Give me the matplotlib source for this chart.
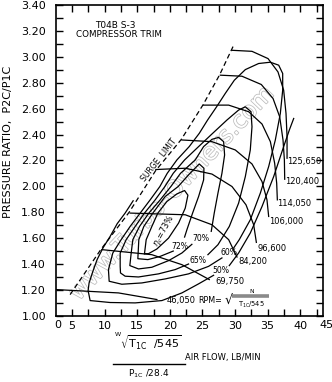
import matplotlib
matplotlib.use("Agg")
import matplotlib.pyplot as plt
from matplotlib.lines import Line2D
import matplotlib.patheffects as pe

plt.rcParams['font.family'] = ['DejaVu Sans']
plt.rcParams['mathtext.fontset'] = 'dejavusans'

# ---------------- data ----------------
speed_labels = ["125,650", "120,400", "114,050", "106,000", "96,600", "84,200", "69,750", "46,050"]
spd_125650_x = [29.53, 32.60, 35.06, 36.59, 37.46, 37.82, 37.98, 37.98]
spd_125650_y = [3.050, 3.042, 2.986, 2.883, 2.742, 2.563, 2.383, 2.217]
spd_120400_x = [27.74, 31.06, 34.03, 35.83, 36.85, 37.36, 37.57, 37.62]
spd_120400_y = [2.858, 2.850, 2.786, 2.678, 2.537, 2.358, 2.204, 2.055]
spd_114050_x = [25.18, 29.02, 32.09, 34.14, 35.42, 36.08, 36.39, 36.49]
spd_114050_y = [2.627, 2.627, 2.576, 2.481, 2.345, 2.178, 2.024, 1.896]
spd_106000_x = [21.85, 26.46, 30.04, 32.60, 34.14, 34.90, 35.16]
spd_106000_y = [2.358, 2.345, 2.281, 2.173, 2.037, 1.896, 1.768]
spd_96600_x = [17.85, 22.36, 26.46, 29.53, 31.68, 32.86, 33.27]
spd_96600_y = [2.130, 2.140, 2.095, 1.999, 1.858, 1.704, 1.568]
spd_84200_x = [13.91, 22.36, 26.46, 29.02, 30.30]
spd_84200_y = [1.794, 1.781, 1.704, 1.589, 1.455]
spd_69750_x = [9.56, 17.24, 21.85, 24.66, 26.05]
spd_69750_y = [1.512, 1.473, 1.396, 1.319, 1.281]
spd_46050_x = [2.50, 12.12, 18.01]
spd_46050_y = [1.204, 1.178, 1.127]

surge_x = [4.70, 9.40, 13.75, 17.80, 21.75, 25.10, 27.65, 29.78]
surge_y = [1.165, 1.512, 1.800, 2.120, 2.362, 2.630, 2.862, 3.088]

eff_labels = ["73%", "72%", "70%", "65%", "60%", "50%"]
eff73_x = [16.11, 16.37, 17.24, 18.16, 19.54, 21.08, 22.26, 22.77, 22.36, 21.34, 19.80, 18.01, 16.73, 16.11]
eff73_y = [1.481, 1.589, 1.691, 1.794, 1.883, 1.942, 1.968, 1.932, 1.832, 1.717, 1.601, 1.517, 1.481, 1.481]
eff72_x = [22.26, 22.62, 23.49, 24.41, 25.18, 25.23, 24.51, 22.87, 21.28, 19.29, 17.39, 16.01, 15.24, 15.09, 16.63, 18.52, 20.52]
eff72_y = [1.609, 1.666, 1.794, 1.922, 2.050, 2.140, 2.173, 2.089, 1.999, 1.922, 1.794, 1.691, 1.589, 1.442, 1.435, 1.460, 1.501]
eff70_x = [26.35, 26.81, 27.38, 27.99, 28.40, 28.25, 27.48, 26.46, 25.18, 23.90, 21.64, 20.16, 18.52, 16.78, 15.35, 14.32, 14.07, 13.86, 15.19, 17.24, 19.80, 21.85, 23.38]
eff70_y = [1.653, 1.794, 1.948, 2.101, 2.242, 2.345, 2.378, 2.363, 2.307, 2.204, 2.101, 1.999, 1.896, 1.794, 1.691, 1.589, 1.486, 1.389, 1.363, 1.376, 1.427, 1.486, 1.553]
eff65_x = [25.84, 27.38, 29.12, 30.55, 31.58, 32.34, 32.60, 32.45, 31.58, 30.55, 28.76, 26.56, 24.41, 22.26, 20.52, 19.24, 17.75, 16.11, 14.68, 13.30, 12.38, 12.38, 12.43, 13.14, 15.19, 18.26, 20.82, 22.87]
eff65_y = [1.473, 1.550, 1.691, 1.871, 2.076, 2.281, 2.460, 2.576, 2.614, 2.589, 2.512, 2.409, 2.307, 2.204, 2.101, 1.999, 1.896, 1.794, 1.691, 1.589, 1.486, 1.383, 1.332, 1.307, 1.301, 1.325, 1.358, 1.401]
eff60_x = [29.78, 30.65, 32.34, 33.88, 35.16, 36.18, 36.95, 37.31, 37.31, 36.70, 35.42, 33.62, 31.58, 29.89, 28.50, 27.17, 25.79, 24.51, 22.97, 21.08, 19.60, 18.47, 16.98, 15.45, 13.91, 12.53, 11.25, 10.58, 10.69, 12.63, 15.70, 19.29, 22.87, 25.94, 27.99]
eff60_y = [1.524, 1.589, 1.742, 1.948, 2.153, 2.358, 2.563, 2.742, 2.871, 2.935, 2.958, 2.948, 2.901, 2.819, 2.717, 2.614, 2.512, 2.409, 2.307, 2.204, 2.101, 1.999, 1.896, 1.794, 1.691, 1.589, 1.486, 1.358, 1.268, 1.245, 1.255, 1.286, 1.325, 1.383, 1.448]
eff50_x = [14.37, 13.14, 11.92, 10.84, 9.76, 8.84, 8.23, 7.61, 7.46, 7.77, 10.84, 14.68, 18.78, 21.85, 24.41, 26.71]
eff50_y = [1.889, 1.794, 1.712, 1.614, 1.527, 1.435, 1.350, 1.255, 1.196, 1.119, 1.104, 1.101, 1.119, 1.178, 1.248, 1.314]
eff50b_x = [29.12, 30.55, 32.34, 34.14, 35.93, 37.46, 38.33, 39.00]
eff50b_y = [1.389, 1.486, 1.640, 1.845, 2.076, 2.307, 2.435, 2.524]

xtick_labels = ["0", "5", "10", "15", "20", "25", "30", "35", "40", "45"]
ytick_labels = ["1.00", "1.20", "1.40", "1.60", "1.80", "2.00", "2.20", "2.40", "2.60", "2.80", "3.00", "3.20", "3.40"]

# ---------------- figure ----------------
fig = plt.figure(figsize=(3.32, 3.82), dpi=100)
ax = fig.add_axes([0.168, 0.1728, 0.805, 0.8143])
ax.set_xlim(2.5, 43.5)
ax.set_ylim(1.0, 3.4)

# watermark
ax.text(20.3, 1.95, "www.Turbo-Owners.com", fontsize=17, rotation=46.5, ha='center', va='center',
        color='white', zorder=0.5,
        path_effects=[pe.Stroke(linewidth=1.1, foreground='#bcbcbc'), pe.Normal()])

lw = 0.9
speed_x = [spd_125650_x, spd_120400_x, spd_114050_x, spd_106000_x, spd_96600_x, spd_84200_x, spd_69750_x, spd_46050_x]
speed_y = [spd_125650_y, spd_120400_y, spd_114050_y, spd_106000_y, spd_96600_y, spd_84200_y, spd_69750_y, spd_46050_y]
for xs, ys in zip(speed_x, speed_y):
    ax.plot(xs, ys, color='black', lw=lw, zorder=2)

ax.plot(surge_x, surge_y, color='black', lw=lw, ls=(0, (4, 2.5)), zorder=2)

eff_x = [eff73_x, eff72_x, eff70_x, eff65_x, eff60_x, eff50_x, eff50b_x]
eff_y = [eff73_y, eff72_y, eff70_y, eff65_y, eff60_y, eff50_y, eff50b_y]
for xs, ys in zip(eff_x, eff_y):
    ax.plot(xs, ys, color='black', lw=lw, zorder=2)

# speed labels at line ends
fs = 6.0
speed_lab_x = [37.98, 37.72, 36.44, 35.16, 33.37, 30.55, 26.97, 19.54]
speed_lab_y = [2.191, 2.037, 1.871, 1.730, 1.524, 1.422, 1.268, 1.122]
for lab, lx, ly in zip(speed_labels, speed_lab_x, speed_lab_y):
    ax.text(lx, ly, lab, fontsize=fs, ha='left', va='center', zorder=3)

# efficiency labels
ax.text(19.03, 1.66, r"$\eta_c$=73%", fontsize=5.8, rotation=61, ha='center', va='center', zorder=3)
eff_lab_x = [21.59, 24.77, 24.25, 29.02, 27.89]
eff_lab_y = [1.537, 1.596, 1.430, 1.491, 1.353]
for lab, lx, ly in zip(eff_labels[1:], eff_lab_x, eff_lab_y):
    ax.text(lx, ly, lab, fontsize=5.6, ha='center', va='center', zorder=3)

ax.text(18.26, 2.204, "SURGE  LIMIT", fontsize=5.6, rotation=52, ha='center', va='center', zorder=3)
ax.text(11.6, 3.245, "T04B S-3", fontsize=6.5, ha='center', va='center')
ax.text(12.2, 3.170, "COMPRESSOR TRIM", fontsize=6.3, ha='center', va='center')

# RPM formula
ax.text(24.3, 1.122, "RPM=", fontsize=5.8, ha='left', va='center')
ax.text(28.35, 1.118, "\u221a", fontsize=9, ha='left', va='center')
ax.plot([29.55, 35.16], [1.153, 1.153], color='#8a8a8a', lw=2.6, solid_capstyle='butt')
ax.text(32.6, 1.192, "N", fontsize=4.3, ha='center', va='center')
ax.text(32.45, 1.086, r"$\mathregular{T_{1C}}$/545", fontsize=4.8, ha='center', va='center')

# ticks
ax.set_xticks([5, 10, 15, 20, 25, 30, 35, 40])
ax.set_xticklabels(xtick_labels[1:-1])
ax.set_xticks([7.5, 12.5, 17.5, 22.5, 27.5, 32.5, 37.5, 42.5], minor=True)
ax.set_yticks([1.0 + 0.2 * i for i in range(13)])
ax.set_yticklabels(ytick_labels)
ax.set_yticks([1.1 + 0.2 * i for i in range(12)], minor=True)
ax.tick_params(which='both', direction='in', top=True, right=True, length=5, width=1.0, labelsize=8)
ax.tick_params(axis='x', pad=3.5)
ax.tick_params(axis='y', pad=7)
ax.text(2.8, 0.93, xtick_labels[0], fontsize=8, ha='center', va='center')
ax.text(44.0, 0.93, xtick_labels[-1], fontsize=8, ha='center', va='center', clip_on=False)
for s in ax.spines.values():
    s.set_linewidth(1.2)

fig.text(0.025, 0.628, "PRESSURE RATIO,  P2C/P1C", rotation=90, fontsize=8, ha='center', va='center')

# x label formula
fig.text(0.355, 0.124, "W", fontsize=4.5, ha='center', va='center')
fig.text(0.362, 0.102, r"$\sqrt{\mathregular{T_{1C}\ \ /545}}$", fontsize=8, ha='left', va='center')
fig.text(0.557, 0.065, "AIR FLOW, LB/MIN", fontsize=6, ha='left', va='center')
fig.add_artist(Line2D([0.340, 0.557], [0.047, 0.047], color='black', lw=1.0))
fig.text(0.385, 0.021, r"$\mathregular{P_{1C}}$ /28.4", fontsize=6.5, ha='left', va='center')

fig.savefig("out.png", dpi=100)
